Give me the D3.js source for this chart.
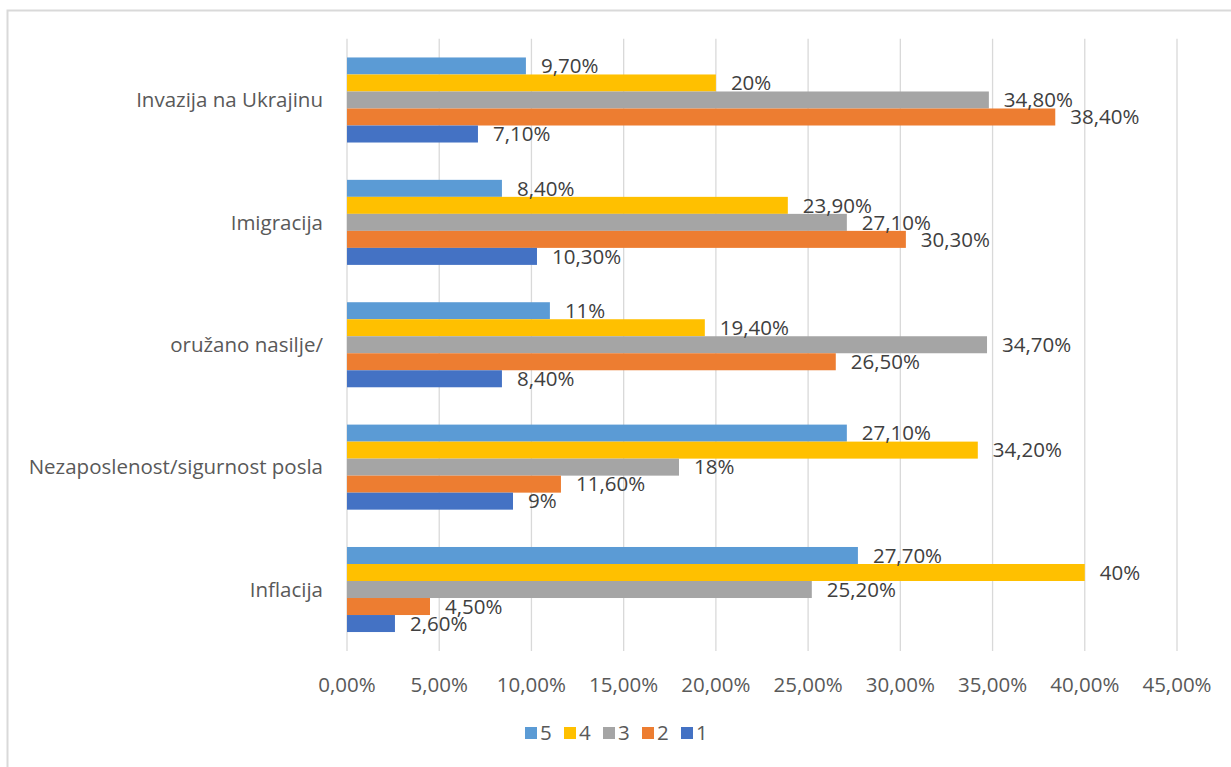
<!DOCTYPE html>
<html>
<head>
<meta charset="utf-8">
<script src="https://cdn.jsdelivr.net/npm/d3@7"></script>
<style>
  body { margin: 0; background: #fff; }
  text { font-family: "Open Sans", "Noto Sans", sans-serif; }
</style>
</head>
<body>
<div id="chart"></div>
<script>
const width = 1231;
const height = 767;

const categories = ["Invazija na Ukrajinu", "Imigracija", "oružano nasilje/", "Nezaposlenost/sigurnost posla", "Inflacija"];
const seriesNames = ["5", "4", "3", "2", "1"];
const colors = ["#5B9BD5", "#FFC000", "#A5A5A5", "#ED7D31", "#4472C4"];
// values per series, same order as categories
const s5 = [9.7, 8.4, 11, 27.1, 27.7];
const s4 = [20, 23.9, 19.4, 34.2, 40];
const s3 = [34.8, 27.1, 34.7, 18, 25.2];
const s2 = [38.4, 30.3, 26.5, 11.6, 4.5];
const s1 = [7.1, 10.3, 8.4, 9, 2.6];
const labels5 = ["9,70%", "8,40%", "11%", "27,10%", "27,70%"];
const labels4 = ["20%", "23,90%", "19,40%", "34,20%", "40%"];
const labels3 = ["34,80%", "27,10%", "34,70%", "18%", "25,20%"];
const labels2 = ["38,40%", "30,30%", "26,50%", "11,60%", "4,50%"];
const labels1 = ["7,10%", "10,30%", "8,40%", "9%", "2,60%"];
const xTicks = [0, 5, 10, 15, 20, 25, 30, 35, 40, 45];

const seriesValues = [s5, s4, s3, s2, s1];
const seriesLabels = [labels5, labels4, labels3, labels2, labels1];

const fs = '20.5px';

const svg = d3.select('#chart')
  .append('svg')
  .attr('width', width)
  .attr('height', height);

// chart border
svg.append('rect')
  .attr('x', 7.5).attr('y', 10.5)
  .attr('width', 1400).attr('height', 1000)
  .attr('fill', 'none')
  .attr('stroke', '#d9d9d9')
  .attr('stroke-width', 2);

const x = d3.scaleLinear().domain([0, 45]).range([347, 1177]);
const y = d3.scaleBand().domain(categories).range([38.8, 650.7]).paddingInner(0.305).paddingOuter(0.1525);
const ySub = d3.scaleBand().domain(seriesNames).range([0, y.bandwidth()]);

// gridlines
svg.append('g')
  .selectAll('line')
  .data(xTicks)
  .enter()
  .append('line')
  .attr('x1', d => x(d)).attr('x2', d => x(d))
  .attr('y1', 38.8).attr('y2', 651)
  .attr('stroke', '#d9d9d9')
  .attr('stroke-width', 1.3);

// tick labels
svg.append('g')
  .selectAll('text')
  .data(xTicks)
  .enter()
  .append('text')
  .attr('x', d => x(d))
  .attr('y', 685)
  .attr('dy', '0.35em')
  .attr('text-anchor', 'middle')
  .attr('fill', '#595959')
  .style('font-size', fs)
  .text(d => d.toFixed(2).replace('.', ',') + '%');

// category labels
svg.append('g')
  .selectAll('text')
  .data(categories)
  .enter()
  .append('text')
  .attr('x', 323)
  .attr('y', d => y(d) + y.bandwidth() / 2)
  .attr('dy', '0.35em')
  .attr('text-anchor', 'end')
  .attr('fill', '#595959')
  .style('font-size', fs)
  .text(d => d);

// bars
const rows = [];
seriesNames.forEach((s, si) => {
  categories.forEach((c, ci) => {
    rows.push({series: s, si: si, cat: c, value: seriesValues[si][ci], label: seriesLabels[si][ci]});
  });
});

svg.append('g')
  .selectAll('rect')
  .data(rows)
  .enter()
  .append('rect')
  .attr('x', x(0))
  .attr('y', d => y(d.cat) + ySub(d.series))
  .attr('width', d => x(d.value) - x(0))
  .attr('height', ySub.bandwidth())
  .attr('fill', d => colors[d.si]);

svg.append('g')
  .selectAll('text')
  .data(rows)
  .enter()
  .append('text')
  .attr('x', d => x(d.value) + 15)
  .attr('y', d => y(d.cat) + ySub(d.series) + ySub.bandwidth() / 2)
  .attr('dy', '0.35em')
  .attr('fill', '#404040')
  .style('font-size', fs)
  .text(d => d.label);

// legend
const legend = svg.append('g')
  .selectAll('g')
  .data(seriesNames)
  .enter()
  .append('g')
  .attr('transform', (d, i) => `translate(${525 + i * 39}, 727)`);

legend.append('rect')
  .attr('width', 12).attr('height', 12)
  .attr('fill', (d, i) => colors[i]);

legend.append('text')
  .attr('x', 15).attr('y', 6)
  .attr('dy', '0.35em')
  .attr('fill', '#595959')
  .style('font-size', fs)
  .text(d => d);
</script>
</body>
</html>
